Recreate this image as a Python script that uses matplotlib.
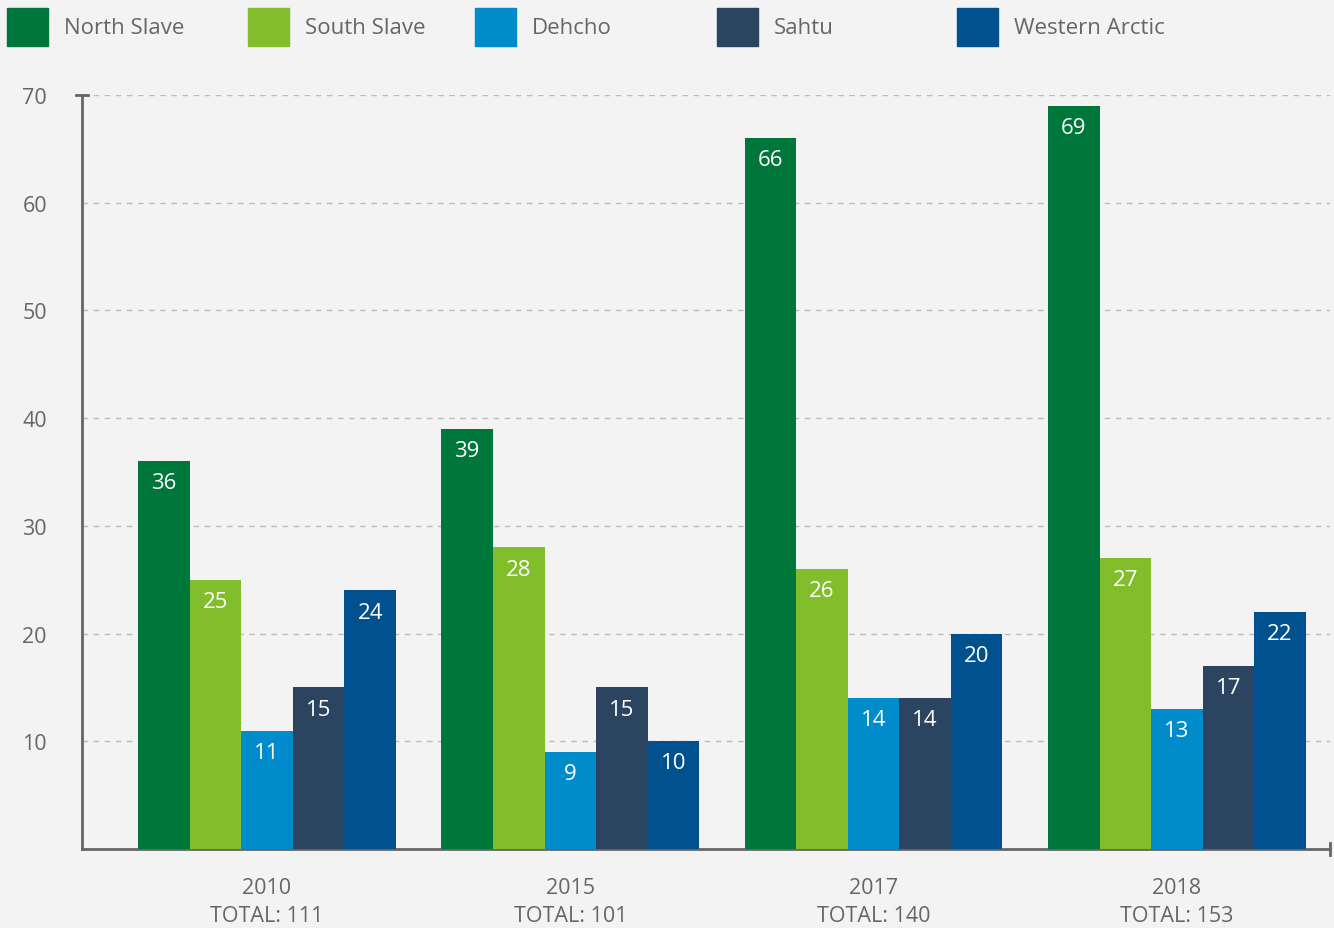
import numpy as np
import matplotlib.pyplot as plt
from matplotlib.patches import Rectangle

plt.rcParams['font.family'] = ['Open Sans', 'DejaVu Sans']

years = ['2010', '2015', '2017', '2018']
totals = [111, 101, 140, 153]
regions = ['North Slave', 'South Slave', 'Dehcho', 'Sahtu', 'Western Arctic']
colors = ['#00773a', '#82be2c', '#008bca', '#2b4460', '#00518e']
north_slave = [36, 39, 66, 69]
south_slave = [25, 28, 26, 27]
dehcho = [11, 9, 14, 13]
sahtu = [15, 15, 14, 17]
western_arctic = [24, 10, 20, 22]
series = [north_slave, south_slave, dehcho, sahtu, western_arctic]

grey = '#666666'
fig = plt.figure(figsize=(13.34, 9.29), dpi=100, facecolor='#f3f3f3')
ax = fig.add_axes([0.0615, 0.085, 0.9355, 0.8117])
ax.set_facecolor('none')

x = np.arange(len(years))
w = 0.17
for i, (vals, c) in enumerate(zip(series, colors)):
    pos = x + (i - 2) * w
    ax.bar(pos, vals, width=w, color=c, zorder=3)
    for p, v in zip(pos, vals):
        ax.annotate(str(v), (p, v), xytext=(0, -8), textcoords='offset points',
                    ha='center', va='top', color='white', fontsize=16, zorder=4)

ax.set_xlim(-0.61, 3.505)
ax.set_ylim(0, 70)
ax.set_yticks([10, 20, 30, 40, 50, 60, 70])
ax.yaxis.grid(True, color='#bbbbbb', linestyle=(0, (4, 4)), linewidth=1, zorder=0)
ax.set_xticks(x)
ax.set_xticklabels([f'{y}\nTOTAL: {t}' for y, t in zip(years, totals)],
                   linespacing=1.45)
ax.tick_params(axis='both', length=0, colors=grey, labelsize=15.5)
ax.tick_params(axis='x', pad=20)
ax.tick_params(axis='y', pad=43)
for lab in ax.get_yticklabels():
    lab.set_horizontalalignment('left')
for s in ['top', 'right']:
    ax.spines[s].set_visible(False)
for s in ['left', 'bottom']:
    ax.spines[s].set_color(grey)
    ax.spines[s].set_linewidth(2)

# end caps on axes
ax.plot([-0.005, 0.005], [70, 70], transform=ax.get_yaxis_transform(),
        color=grey, lw=2, clip_on=False)
ax.plot([1, 1], [-0.008, 0.008], transform=ax.transAxes,
        color=grey, lw=2, clip_on=False)

# legend across the top
leg_x = [7, 248, 475, 717, 957]
for lx, name, c in zip(leg_x, regions, colors):
    fig.add_artist(Rectangle((lx / 1334, 1 - 47 / 929), 41 / 1334, 38 / 929,
                             transform=fig.transFigure, color=c))
    fig.text((lx + 57) / 1334, 1 - 28 / 929, name, color=grey, fontsize=16,
             va='center', ha='left')

fig.savefig('out.png', dpi=100, facecolor=fig.get_facecolor())
